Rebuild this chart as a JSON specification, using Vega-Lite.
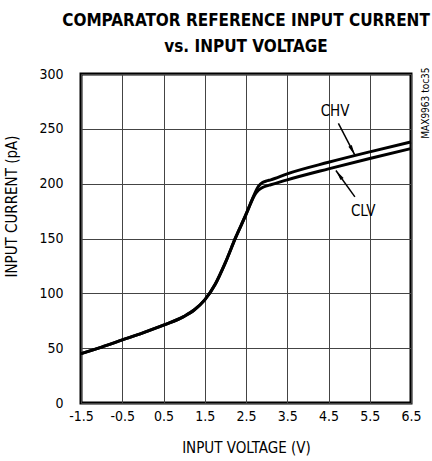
{
  "$schema": "https://vega.github.io/schema/vega-lite/v6.json",
  "width": 330,
  "height": 329,
  "autosize": "none",
  "padding": {"left": 81, "top": 74, "right": 21, "bottom": 58},
  "background": "white",
  "config": {
    "font": "DejaVu Sans Condensed, Roboto",
    "view": {"stroke": "black", "strokeWidth": 3},
    "axis": {
      "grid": true, "gridColor": "#444", "gridWidth": 1, "gridOpacity": 1,
      "domain": false, "ticks": false, "labelOverlap": false, "labelFlush": false,
      "labelFont": "DejaVu Sans Condensed, Roboto", "labelFontSize": 14, "labelColor": "black",
      "titleFont": "DejaVu Sans Condensed, Roboto", "titleFontSize": 15, "titleFontWeight": "normal", "titleColor": "black"
    }
  },
  "title": {
    "text": ["COMPARATOR REFERENCE INPUT CURRENT", "vs. INPUT VOLTAGE"],
    "font": "DejaVu Sans Condensed, Roboto", "fontSize": 17, "fontWeight": "bold", "color": "black",
    "anchor": "middle", "frame": "group", "offset": 11, "lineHeight": 26
  },
  "datasets": {
    "curves": [
      {"series": "CHV", "v": -1.5, "i": 45}, {"series": "CHV", "v": -1.0, "i": 51}, {"series": "CHV", "v": -0.5, "i": 57.5},
      {"series": "CHV", "v": 0.0, "i": 64}, {"series": "CHV", "v": 0.5, "i": 71}, {"series": "CHV", "v": 1.0, "i": 79},
      {"series": "CHV", "v": 1.25, "i": 85}, {"series": "CHV", "v": 1.5, "i": 94}, {"series": "CHV", "v": 1.75, "i": 108},
      {"series": "CHV", "v": 2.0, "i": 128}, {"series": "CHV", "v": 2.25, "i": 151}, {"series": "CHV", "v": 2.5, "i": 172},
      {"series": "CHV", "v": 2.6, "i": 181}, {"series": "CHV", "v": 2.7, "i": 190}, {"series": "CHV", "v": 2.8, "i": 197.5},
      {"series": "CHV", "v": 2.9, "i": 201}, {"series": "CHV", "v": 3.0, "i": 202.5}, {"series": "CHV", "v": 3.1, "i": 203.5},
      {"series": "CHV", "v": 3.5, "i": 209}, {"series": "CHV", "v": 4.5, "i": 219.5}, {"series": "CHV", "v": 5.5, "i": 229},
      {"series": "CHV", "v": 6.5, "i": 238},
      {"series": "CLV", "v": -1.5, "i": 45}, {"series": "CLV", "v": -1.0, "i": 51}, {"series": "CLV", "v": -0.5, "i": 57.5},
      {"series": "CLV", "v": 0.0, "i": 64}, {"series": "CLV", "v": 0.5, "i": 71}, {"series": "CLV", "v": 1.0, "i": 79},
      {"series": "CLV", "v": 1.25, "i": 85}, {"series": "CLV", "v": 1.5, "i": 94}, {"series": "CLV", "v": 1.75, "i": 108},
      {"series": "CLV", "v": 2.0, "i": 128}, {"series": "CLV", "v": 2.25, "i": 151}, {"series": "CLV", "v": 2.5, "i": 172},
      {"series": "CLV", "v": 2.6, "i": 181}, {"series": "CLV", "v": 2.7, "i": 189}, {"series": "CLV", "v": 2.8, "i": 194},
      {"series": "CLV", "v": 2.9, "i": 196.5}, {"series": "CLV", "v": 3.0, "i": 198}, {"series": "CLV", "v": 3.1, "i": 199},
      {"series": "CLV", "v": 3.5, "i": 203.5}, {"series": "CLV", "v": 4.5, "i": 213.5}, {"series": "CLV", "v": 5.5, "i": 223},
      {"series": "CLV", "v": 6.5, "i": 232}
    ],
    "arrows": [
      {"label": "CHV", "x1": 4.74, "y1": 255, "x2": 5.14, "y2": 226, "angle": 152.6},
      {"label": "CLV", "x1": 5.14, "y1": 188, "x2": 4.68, "y2": 212, "angle": 324}
    ],
    "labels": [
      {"label": "CHV", "x": 4.66, "y": 266},
      {"label": "CLV", "x": 5.34, "y": 175}
    ],
    "note": [{"label": "MAX9963 toc35", "x": 6.86, "y": 273.5}]
  },
  "layer": [
    {
      "data": {"name": "curves"},
      "mark": {"type": "line", "color": "black", "strokeWidth": 3, "strokeJoin": "round", "interpolate": "monotone"},
      "encoding": {
        "x": {"field": "v", "type": "quantitative",
              "scale": {"domain": [-1.5, 6.5], "nice": false, "zero": false},
              "axis": {"values": [-1.5, -0.5, 0.5, 1.5, 2.5, 3.5, 4.5, 5.5, 6.5], "format": ".1f", "labelExpr": "replace(datum.label, '\u2212', '-')", "labelPadding": 6, "title": "INPUT VOLTAGE (V)", "titlePadding": 17}},
        "y": {"field": "i", "type": "quantitative",
              "scale": {"domain": [0, 300], "nice": false},
              "axis": {"values": [0, 50, 100, 150, 200, 250, 300], "labelPadding": 18, "title": "INPUT CURRENT (pA)", "titleY": 132, "titleX": -62}},
        "detail": {"field": "series"}
      }
    },
    {
      "data": {"name": "arrows"},
      "mark": {"type": "rule", "color": "black", "strokeWidth": 1.5},
      "encoding": {
        "x": {"field": "x1", "type": "quantitative"},
        "y": {"field": "y1", "type": "quantitative"},
        "x2": {"field": "x2"},
        "y2": {"field": "y2"}
      }
    },
    {
      "data": {"name": "arrows"},
      "mark": {"type": "point", "filled": true, "color": "black", "opacity": 1, "size": 110, "shape": "M0,0L0.36,2L-0.36,2Z"},
      "encoding": {
        "x": {"field": "x2", "type": "quantitative"},
        "y": {"field": "y2", "type": "quantitative"},
        "angle": {"field": "angle", "type": "quantitative", "scale": null}
      }
    },
    {
      "data": {"name": "labels"},
      "mark": {"type": "text", "fontSize": 15, "color": "black", "align": "center", "baseline": "middle"},
      "encoding": {
        "x": {"field": "x", "type": "quantitative"},
        "y": {"field": "y", "type": "quantitative"},
        "text": {"field": "label"}
      }
    },
    {
      "data": {"name": "note"},
      "mark": {"type": "text", "fontSize": 10, "color": "black", "align": "center", "baseline": "middle", "angle": 270},
      "encoding": {
        "x": {"field": "x", "type": "quantitative"},
        "y": {"field": "y", "type": "quantitative"},
        "text": {"field": "label"}
      }
    }
  ]
}
